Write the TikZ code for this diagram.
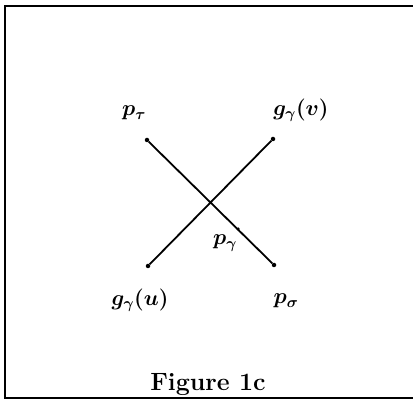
\RequirePackage{fix-cm}
\documentclass[tikz,border=0pt]{standalone}
\usepackage{bm}
\begin{document}
\begin{tikzpicture}[x=1pt,y=-1pt,
  lbl/.style={inner sep=0pt,font=\fontsize{22}{26}\selectfont\boldmath},
  seg/.style={line width=1.8pt},
  dot/.style={circle,fill=black,inner sep=0pt,minimum size=4.5pt}]
\useasboundingbox (0,0) rectangle (413,401);
\draw[line width=2pt] (415,6) -- (4.5,6) -- (4.5,398) -- (415,398);
\node[dot] (pt) at (147,140) {};
\node[dot] (gv) at (273,139) {};
\node[dot] (gu) at (148,266) {};
\node[dot] (ps) at (274,265) {};
\draw[seg] (pt) -- (ps);
\draw[seg] (gu) -- (gv);
\node[dot,minimum size=3.5pt] (pg) at (238,229) {};
\node[lbl] (lpt) at (134,113) {$p_\tau$};
\node[lbl] (lgv) at (301,110) {$g_{\gamma}(v)$};
\node[lbl] (lgu) at (140,300) {$g_{\gamma}(u)$};
\node[lbl] (lps) at (286,301) {$p_\sigma$};
\node[lbl] (lpg) at (225,243) {$p_\gamma$};
\node[inner sep=0pt,font=\fontsize{25}{30}\selectfont\bfseries] (cap) at (208,384) {Figure 1c};
\end{tikzpicture}
\end{document}
